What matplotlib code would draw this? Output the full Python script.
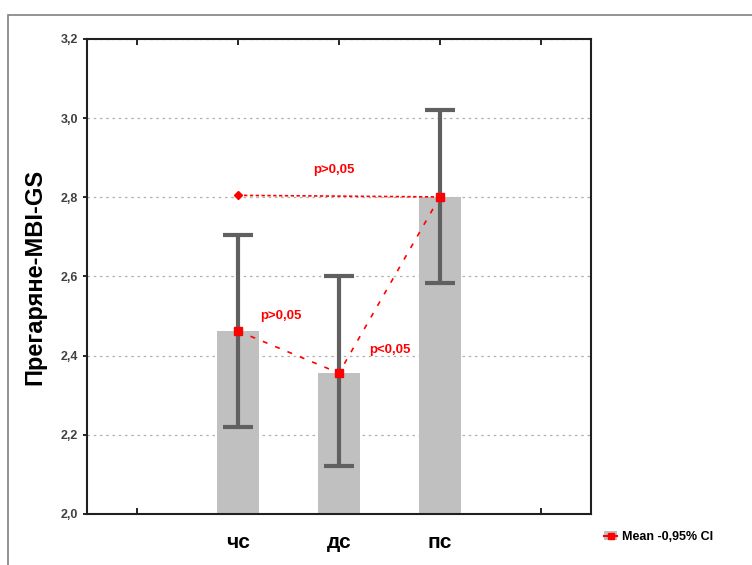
import matplotlib
matplotlib.use("Agg")
import matplotlib.pyplot as plt
from matplotlib.patches import Rectangle
from matplotlib.lines import Line2D

categories = ["чс", "дс", "пс"]
means = [2.462, 2.356, 2.801]
ci_upper = [2.705, 2.600, 3.021]
ci_lower = [2.220, 2.122, 2.584]
ref_level = 2.805
p_labels = ["p>0,05", "p<0,05", "p>0,05"]
y_ticks = [2.0, 2.2, 2.4, 2.6, 2.8, 3.0, 3.2]

plt.rcParams['font.family'] = ['Liberation Sans', 'DejaVu Sans']

fig = plt.figure(figsize=(7.52, 5.65), dpi=100)
# outer frame
fig.patches.append(Rectangle((8/752, -0.1), 1.0, (565-15)/565 + 0.1,
                             transform=fig.transFigure, fill=False,
                             edgecolor="#808080", linewidth=1.2))
ax = fig.add_axes([87/752, 1-514/565, (591-87)/752, (514-39)/565])

pos = [1, 2, 3]
ax.bar(pos, means, width=0.42, color="#c0c0c0", zorder=2, bottom=0)
yerr = [[m - l for m, l in zip(means, ci_lower)], [u - m for m, u in zip(means, ci_upper)]]
ax.errorbar(pos, means, yerr=yerr, fmt="none", ecolor="#606060",
            elinewidth=3, capsize=11, capthick=3, zorder=3)
ax.plot(pos, means, color="red", linestyle=(0, (3, 5)), linewidth=1.2, zorder=4)
ax.plot(pos, means, "s", color="red", markersize=6, zorder=5)
ax.plot([pos[0], pos[2]], [ref_level, means[2]], color="red",
        linestyle=(0, (2, 1.5)), linewidth=1.2, zorder=4)
ax.plot([pos[0]], [ref_level], "D", color="red", markersize=4, zorder=5)

ax.text(1.42, 2.50, p_labels[0], color="red", fontsize=9.5, fontweight="bold", ha="center", va="center")
ax.text(2.5, 2.415, p_labels[1], color="red", fontsize=9.5, fontweight="bold", ha="center", va="center")
ax.text(1.95, 2.87, p_labels[2], color="red", fontsize=9.5, fontweight="bold", ha="center", va="center")

ax.set_xlim(-0.5, 4.5)
ax.set_ylim(2.0, 3.2)
ax.set_xticks([0, 1, 2, 3, 4])
ax.set_xticklabels([""] + categories + [""], fontsize=15, fontweight="bold")
ax.set_yticks(y_ticks)
ax.set_yticklabels([f"{v:.1f}".replace(".", ",") for v in y_ticks], fontsize=9,
                   fontweight="bold", color="#404040")
ax.tick_params(axis="x", direction="in", length=4, width=1.2, pad=14, top=True)
ax.tick_params(axis="y", direction="out", length=3, width=1.2)
ax.yaxis.grid(True, linestyle=(0, (2, 3)), color="#b0b0b0", linewidth=0.9, zorder=0)
ax.set_axisbelow(True)
for s in ax.spines.values():
    s.set_linewidth(1.5)
    s.set_color("#202020")
ax.set_ylabel("Прегаряне-MBI-GS", fontsize=17, fontweight="bold", labelpad=10)

handle = (Rectangle((0, 0), 1, 1, facecolor="#c0c0c0", edgecolor="none"),
          Line2D([], [], color="red", marker="s", markersize=5, linestyle="-"))
leg = fig.legend([handle], ["Mean -0,95% CI"], loc="center left",
                 bbox_to_anchor=(593/752, 1-537/565), frameon=False,
                 prop={"weight": "bold", "size": 9}, handlelength=1.0,
                 handletextpad=0.4)

fig.savefig("out.png", dpi=100)
